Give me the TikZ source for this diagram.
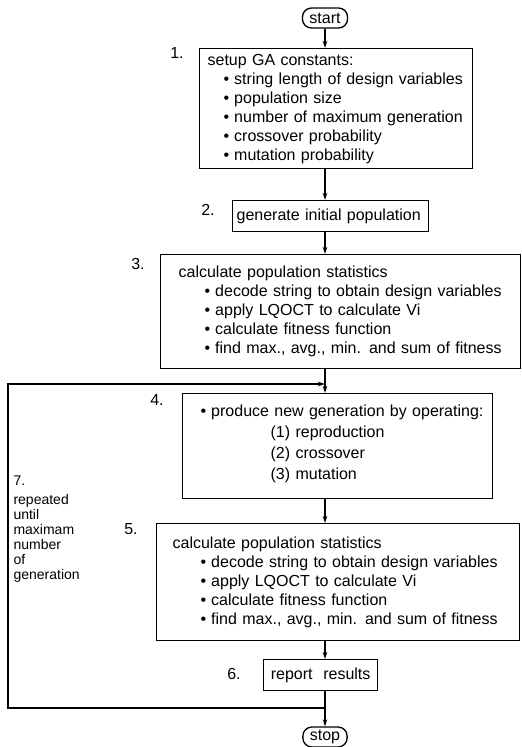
\documentclass[tikz,border=0pt]{standalone}
\usepackage{fontspec}
\setmainfont{Liberation Sans}
\usetikzlibrary{arrows.meta,positioning}

\newcommand{\bitem}[1]{\hspace*{#1}\textbullet\hspace{5pt}}

\begin{document}
\begin{tikzpicture}[x=1pt, y=-1pt,
  stepbox/.style={draw, line width=1.3pt, anchor=north west, align=left,
    inner xsep=4pt, inner ysep=0pt, font=\fontsize{16}{19}\selectfont},
  termbox/.style={draw, line width=1.3pt, rounded corners=9pt, minimum height=20pt,
    inner xsep=7pt, inner ysep=0pt, font=\fontsize{16}{19}\selectfont},
  numlab/.style={font=\fontsize{16}{19}\selectfont},
  sidelab/.style={anchor=north west, align=left, font=\fontsize{14}{15}\selectfont},
  flow/.style={-{Stealth[length=7pt, width=4.5pt]}, line width=1.2pt}
]
\useasboundingbox (0,0) rectangle (522,747);

% ---------- terminals ----------
\node[termbox] (start) at (325,18) {start};
\node[termbox] (stop)  at (325,737) {stop};

% ---------- process steps ----------
\node[stepbox, text width=265pt, minimum height=120pt] (s1) at (199,48)
  {\hspace*{4pt}setup GA constants:\\
   \bitem{20pt}string length of design variables\\
   \bitem{20pt}population size\\
   \bitem{20pt}number of maximum generation\\
   \bitem{20pt}crossover probability\\
   \bitem{20pt}mutation probability};
\node[stepbox, text width=188pt, minimum height=31pt] (s2) at (232,200)
  {generate initial population};
\node[stepbox, text width=352pt, minimum height=114pt] (s3) at (160,254)
  {\hspace*{14pt}calculate population statistics\\
   \bitem{40pt}decode string to obtain design variables\\
   \bitem{40pt}apply LQOCT to calculate Vi\\
   \bitem{40pt}calculate fitness function\\
   \bitem{40pt}find max., avg., min. and sum of fitness};
\node[stepbox, text width=302pt, minimum height=105pt] (s4) at (182,393)
  {\bitem{14pt}produce new generation by operating:\\[2pt]
   \hspace*{84pt}(1) reproduction\\[2pt]
   \hspace*{84pt}(2) crossover\\[2pt]
   \hspace*{84pt}(3) mutation\rule[-8pt]{0pt}{8pt}};
\node[stepbox, text width=355pt, minimum height=117pt] (s5) at (156,523)
  {\hspace*{12pt}calculate population statistics\\
   \bitem{40pt}decode string to obtain design variables\\
   \bitem{40pt}apply LQOCT to calculate Vi\\
   \bitem{40pt}calculate fitness function\\
   \bitem{40pt}find max., avg., min. and sum of fitness};
\node[stepbox, align=center, text width=106pt, minimum height=31pt] (s6) at (263,659)
  {report\ \ results};

% step numbers
\node[numlab] (n1) at (177,53)  {1.};
\node[numlab] (n2) at (208,210) {2.};
\node[numlab] (n3) at (138,264) {3.};
\node[numlab] (n4) at (157,400) {4.};
\node[numlab] (n5) at (131,529) {5.};
\node[numlab] (n6) at (234,674) {6.};
\node[sidelab] (n7) at (10,472)
  {7.\\[4pt] repeated\\ until\\ maximam\\ number\\ of\\ generation};

% ---------- flow ----------
\coordinate (jtop) at (325,384);
\coordinate (jbot) at (325,708);
\coordinate (ltop) at (8,384);
\coordinate (lbot) at (8,708);

\draw[flow] (start) -- (start |- s1.north);
\draw[flow] (s1.south -| start) -- (s2.north -| start);
\draw[flow] (s2.south -| start) -- (s3.north -| start);
\draw[flow] (s3.south -| start) -- (s4.north -| start);
\draw[flow] (s4.south -| start) -- (s5.north -| start);
\draw[flow] (s5.south -| start) -- (s6.north -| start);
\draw[flow] (s6.south -| start) -- (stop);

% loop back
\draw[flow] (jbot) -- (lbot) -- (ltop) -- (jtop);

\end{tikzpicture}
\end{document}
